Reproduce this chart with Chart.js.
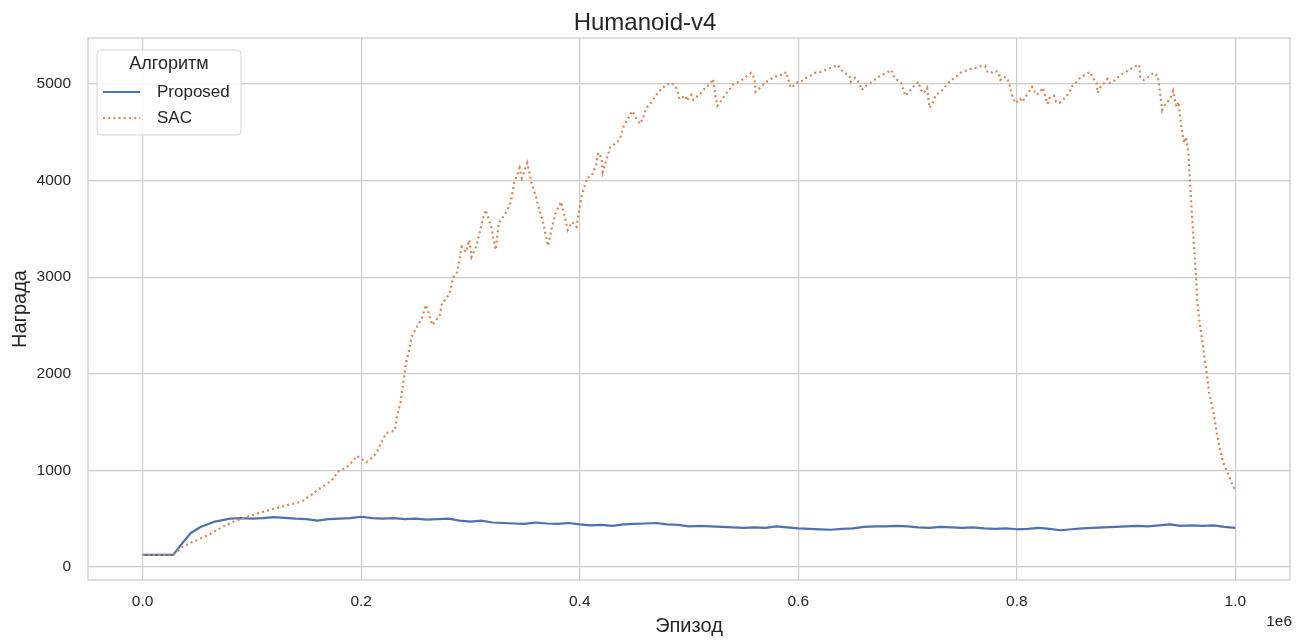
<!DOCTYPE html>
<html>
<head>
<meta charset="utf-8">
<script src="https://cdn.jsdelivr.net/npm/chart.js@4/dist/chart.umd.min.js"></script>
<style>
  html,body{margin:0;padding:0;background:#fff;}
  #wrap{width:1312px;height:640px;}
</style>
</head>
<body>
<div id="wrap"><canvas id="rewardChart" width="1312" height="640"></canvas></div>
<script>
// episode positions are in millions (axis shows "1e6")
const propX = [0,0.01,0.02,0.028,0.035,0.044,0.053,0.065,0.08,0.09,0.1,0.11,0.12,0.13,0.14,0.15,0.16,0.17,0.18,0.19,0.2,0.21,0.22,0.23,0.24,0.25,0.26,0.27,0.28,0.29,0.3,0.31,0.32,0.33,0.34,0.35,0.36,0.37,0.38,0.39,0.4,0.41,0.42,0.43,0.44,0.45,0.46,0.47,0.48,0.49,0.5,0.51,0.52,0.53,0.54,0.55,0.56,0.57,0.58,0.59,0.6,0.61,0.62,0.63,0.64,0.65,0.66,0.67,0.68,0.69,0.7,0.71,0.72,0.73,0.74,0.75,0.76,0.77,0.78,0.79,0.8,0.81,0.82,0.83,0.84,0.85,0.86,0.87,0.88,0.89,0.9,0.91,0.92,0.93,0.94,0.95,0.96,0.97,0.98,0.99,1.0];
const propY = [125,125,125,125,228,352,414,466,500,505,500,505,515,508,500,495,480,495,500,505,520,505,500,505,495,500,490,495,500,480,470,480,460,455,450,445,460,450,445,455,440,430,435,425,440,445,450,455,440,435,420,425,420,415,410,405,410,405,420,410,400,395,390,385,395,400,415,420,420,425,420,410,405,415,410,405,410,400,395,400,390,395,405,395,380,390,400,405,410,415,420,425,420,430,440,425,430,425,430,415,405];

const sacX = [0,0.01,0.02,0.028,0.035,0.042,0.05,0.06,0.068,0.08,0.088,0.096,0.103,0.11,0.118,0.126,0.134,0.141,0.146,0.15,0.155,0.16,0.166,0.171,0.175,0.178,0.183,0.187,0.192,0.196,0.2,0.205,0.21,0.214,0.218,0.223,0.228,0.231,0.233,0.236,0.238,0.241,0.244,0.246,0.251,0.256,0.259,0.262,0.265,0.269,0.272,0.274,0.278,0.281,0.284,0.288,0.292,0.296,0.299,0.301,0.305,0.308,0.311,0.314,0.319,0.323,0.326,0.333,0.337,0.34,0.345,0.347,0.352,0.356,0.36,0.363,0.366,0.371,0.374,0.378,0.383,0.387,0.389,0.393,0.397,0.399,0.402,0.407,0.411,0.415,0.417,0.42,0.421,0.425,0.428,0.434,0.437,0.44,0.445,0.448,0.451,0.455,0.458,0.461,0.466,0.472,0.479,0.484,0.488,0.49,0.491,0.497,0.498,0.502,0.504,0.509,0.515,0.52,0.522,0.524,0.526,0.53,0.533,0.537,0.54,0.545,0.55,0.554,0.557,0.56,0.561,0.565,0.568,0.572,0.577,0.582,0.586,0.589,0.591,0.593,0.594,0.598,0.602,0.606,0.611,0.615,0.621,0.625,0.632,0.636,0.641,0.647,0.648,0.652,0.656,0.658,0.662,0.666,0.671,0.675,0.681,0.685,0.688,0.694,0.697,0.698,0.703,0.706,0.71,0.712,0.715,0.718,0.719,0.72,0.723,0.726,0.732,0.735,0.739,0.744,0.748,0.753,0.758,0.762,0.768,0.771,0.773,0.776,0.78,0.783,0.785,0.788,0.791,0.793,0.794,0.796,0.799,0.803,0.805,0.808,0.811,0.814,0.818,0.821,0.824,0.825,0.827,0.828,0.83,0.834,0.836,0.839,0.844,0.848,0.85,0.854,0.858,0.862,0.867,0.869,0.873,0.874,0.876,0.88,0.883,0.885,0.889,0.893,0.898,0.903,0.907,0.912,0.913,0.916,0.921,0.925,0.929,0.931,0.933,0.934,0.938,0.941,0.943,0.945,0.946,0.948,0.949,0.951,0.953,0.955,0.957,0.958,0.96,0.962,0.964,0.965,0.967,0.97,0.972,0.974,0.976,0.98,0.983,0.986,0.989,0.993,0.998,1.0];
const sacY = [125,125,125,125,197,240,280,330,383,455,490,518,545,570,595,621,645,662,680,714,750,797,840,880,920,983,1010,1035,1090,1150,1120,1087,1130,1180,1280,1387,1400,1418,1573,1700,1863,2112,2250,2381,2484,2588,2712,2620,2505,2560,2609,2733,2780,2836,2992,3054,3313,3261,3385,3209,3313,3437,3592,3696,3520,3282,3561,3675,3779,3975,4130,4027,4182,3975,3830,3696,3592,3323,3489,3665,3779,3592,3489,3571,3520,3665,3850,4030,4050,4161,4286,4234,4089,4234,4348,4389,4441,4555,4658,4720,4658,4586,4648,4752,4814,4917,4990,5010,4969,4907,4845,4876,4824,4886,4834,4886,4959,5010,5052,4886,4772,4834,4886,4938,4990,5021,5052,5093,5114,5052,4917,4959,4990,5031,5062,5093,5093,5124,5041,4969,4959,5010,5021,5052,5083,5114,5124,5145,5176,5197,5124,5083,5021,5062,5010,4938,4979,5010,5052,5083,5114,5145,5062,5010,4917,4876,4938,4979,5021,4938,4907,4959,4855,4752,4803,4886,4938,4979,5031,5072,5114,5134,5155,5166,5186,5186,5124,5114,5134,5124,5041,5072,5062,5010,4948,4865,4800,4845,4814,4865,4917,4969,4886,4917,4959,4907,4834,4793,4855,4876,4814,4803,4855,4907,4969,5010,5062,5093,5124,5072,5010,4907,4959,5010,5052,5010,5031,5072,5114,5145,5176,5197,5062,5041,5072,5114,5083,4917,4731,4762,4814,4865,4927,4803,4762,4814,4700,4524,4389,4451,4286,4079,3696,3354,3002,2764,2557,2319,2143,1988,1801,1594,1387,1211,1077,973,828,810];

const seriesNames = ['Proposed','SAC'];
const seriesColors = ['#4c72b0','#dd8452'];
const xTicks = [0,0.2,0.4,0.6,0.8,1.0];
const yTicks = [0,1000,2000,3000,4000,5000];

const FONT = "'Liberation Sans', Arial, Helvetica, sans-serif";
const TXT = '#262626';
const GRID = '#cccccc';

const toPts = (xs, ys) => xs.map((x,i)=>({x:x*1e6, y:ys[i]}));

// plot frame, "1e6" offset label and the boxed legend
const extras = {
  id:'extras',
  beforeDatasetsDraw(chart){
    const {ctx, chartArea:a} = chart;
    ctx.save();
    ctx.strokeStyle = GRID; ctx.lineWidth = 1.25;
    ctx.strokeRect(a.left, a.top, a.right-a.left, a.bottom-a.top);
    ctx.restore();
  },
  afterDraw(chart){
    const {ctx, chartArea:a} = chart;
    ctx.save();
    ctx.fillStyle = TXT;
    ctx.font = `15.5px ${FONT}`;
    ctx.textAlign = 'right'; ctx.textBaseline = 'middle';
    ctx.fillText('1e6', a.right+2, 622);

    // legend box
    const bx = a.left+9, by = a.top+12, bw = 144, bh = 85, r = 4;
    ctx.beginPath();
    ctx.roundRect(bx, by, bw, bh, r);
    ctx.fillStyle = 'rgba(255,255,255,0.85)'; ctx.fill();
    ctx.strokeStyle = '#d6d6d6'; ctx.lineWidth = 1; ctx.stroke();

    ctx.fillStyle = TXT;
    ctx.textAlign = 'center';
    ctx.font = `18px ${FONT}`;
    ctx.fillText('Алгоритм', bx+bw/2, by+14);

    ctx.font = `17px ${FONT}`;
    chart.data.datasets.forEach((ds,i)=>{
      const y = by+42+i*26;
      ctx.save();
      ctx.strokeStyle = ds.borderColor; ctx.lineWidth = ds.borderWidth;
      ctx.setLineDash(ds.borderDash || []);
      ctx.beginPath(); ctx.moveTo(bx+6, y); ctx.lineTo(bx+43, y); ctx.stroke();
      ctx.restore();
      ctx.textAlign = 'left';
      ctx.fillText(ds.label, bx+60, y);
    });
    ctx.restore();
  }
};

new Chart(document.getElementById('rewardChart'), {
  type:'line',
  data:{
    datasets:[
      { label:seriesNames[0], data:toPts(propX,propY), borderColor:seriesColors[0], borderWidth:2.2, pointRadius:0, order:2, borderJoinStyle:'round' },
      { label:seriesNames[1], data:toPts(sacX,sacY), borderColor:seriesColors[1], borderWidth:2.2, borderDash:[2,3.2], pointRadius:0, order:1 }
    ]
  },
  options:{
    responsive:false, animation:false,
    layout:{ padding:{ left:0, right:22, top:0, bottom:0 } },
    plugins:{
      legend:{ display:false },
      tooltip:{ enabled:false },
      title:{ display:true, text:'Humanoid-v4', color:TXT, font:{ family:FONT, size:24, weight:'normal' }, padding:{ top:9.2, bottom:0 } }
    },
    scales:{
      x:{
        type:'linear', min:-50000, max:1050000,
        afterFit(s){ s.height = 60; },
        afterBuildTicks(s){ s.ticks = xTicks.map(v=>({value:v*1e6})); },
        ticks:{ color:TXT, font:{ family:FONT, size:15.5 }, padding:12, maxRotation:0, callback:v=>(v/1e6).toFixed(1) },
        grid:{ color:GRID, lineWidth:1.2, drawTicks:false },
        border:{ display:false },
        title:{ display:true, text:'Эпизод', color:TXT, font:{ family:FONT, size:20 }, padding:{ top:0, bottom:2 } }
      },
      y:{
        type:'linear', min:-135, max:5475,
        afterFit(s){ s.width = 88; },
        afterBuildTicks(s){ s.ticks = yTicks.map(v=>({value:v})); },
        ticks:{ color:TXT, font:{ family:FONT, size:15.5 }, padding:17, callback:v=>String(v) },
        grid:{ color:GRID, lineWidth:1.2, drawTicks:false },
        border:{ display:false },
        title:{ display:true, text:'Награда', color:TXT, font:{ family:FONT, size:20 }, padding:{ top:8, bottom:0 } }
      }
    }
  },
  plugins:[extras]
});
</script>
</body>
</html>
